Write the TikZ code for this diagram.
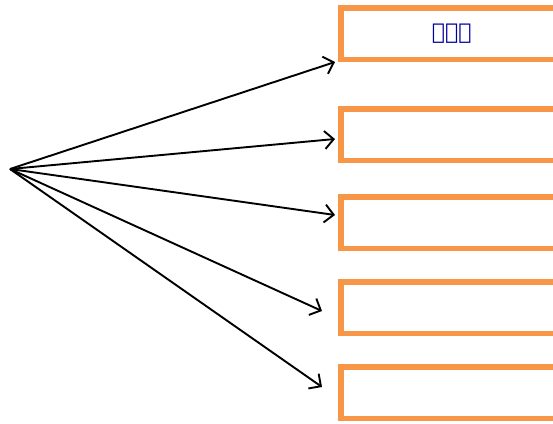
\documentclass[tikz,border=0pt]{standalone}
\usepackage{fontspec}
\usepackage{tikz}
\usetikzlibrary{positioning, arrows.meta, calc}
\newfontfamily\ethfont{DejaVu Sans}
\definecolor{boxOrange}{RGB}{247,150,70}
\definecolor{txtBlue}{RGB}{0,0,160}

\begin{document}
\begin{tikzpicture}[x=1pt, y=-1pt,
	slot/.style={draw=boxOrange, line width=5.5pt, minimum width=222pt, minimum height=51.5pt, anchor=west, inner sep=0pt, fill=white},
	ray/.style={-{Straight Barb[length=9pt, width=18pt]}, line width=1.9pt, black}]
	\useasboundingbox (0,0) rectangle (553,423);
	\clip (0,0) rectangle (553,423);
	\coordinate (root) at (10,169);
	\node[slot, text=txtBlue, font=\ethfont\bfseries\fontsize{22}{26}\selectfont] (b1) at (338,33.5) {ኦኮሌ};
	\node[slot] (b2) at (338,134.5) {};
	\node[slot] (b3) at (338,222.5) {};
	\node[slot] (b4) at (338,307.5) {};
	\node[slot] (b5) at (338,392.5) {};
	\draw[ray] (root) -- ([xshift=-3pt]b1.south west);
	\draw[ray] (root) -- ([shift={(-3pt,-4.5pt)}]b2.west);
	\draw[ray] (root) -- ([shift={(-3pt,7.5pt)}]b3.west);
	\draw[ray] (root) -- ([shift={(-16pt,-3.5pt)}]b4.west);
	\draw[ray] (root) -- ([shift={(-16pt,5.5pt)}]b5.west);
\end{tikzpicture}
\end{document}
